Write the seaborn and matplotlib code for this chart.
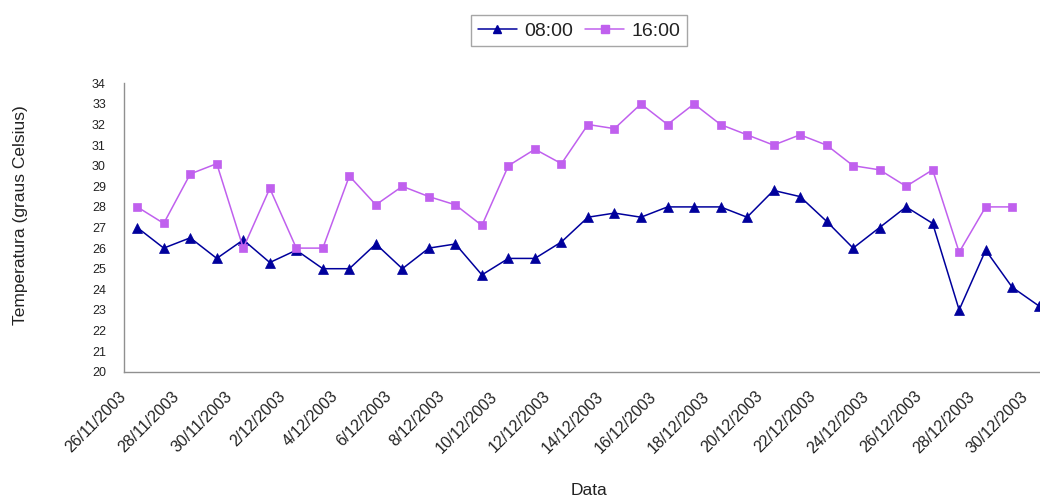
import numpy as np
import pandas as pd
import matplotlib
matplotlib.use("Agg")
import matplotlib.pyplot as plt
import seaborn as sns

# Daily readings, 26/11/2003 - 30/12/2003
datas = [f"{d.day}/{d.month}/{d.year}" for d in pd.date_range("2003-11-26", "2003-12-30", freq="D")]

temp_0800 = [27.0, 26.0, 26.5, 25.5, 26.4, 25.3, 25.9, 25.0, 25.0, 26.2,
             25.0, 26.0, 26.2, 24.7, 25.5, 25.5, 26.3, 27.5, 27.7, 27.5,
             28.0, 28.0, 28.0, 27.5, 28.8, 28.5, 27.3, 26.0, 27.0, 28.0,
             27.2, 23.0, 25.9, 24.1, 23.2]
temp_1600 = [28.0, 27.2, 29.6, 30.1, 26.0, 28.9, 26.0, 26.0, 29.5, 28.1,
             29.0, 28.5, 28.1, 27.1, 30.0, 30.8, 30.1, 32.0, 31.8, 33.0,
             32.0, 33.0, 32.0, 31.5, 31.0, 31.5, 31.0, 30.0, 29.8, 29.0,
             29.8, 25.8, 28.0, 28.0, np.nan]

series_names = ["08:00", "16:00"]
series_colors = {"08:00": "#00009C", "16:00": "#C060EE"}
series_markers = {"08:00": "^", "16:00": "s"}

idx = np.arange(len(datas))
df = pd.concat([
    pd.DataFrame({"pos": idx, "Data": datas, "temp": temp_0800, "Hora": "08:00"}),
    pd.DataFrame({"pos": idx, "Data": datas, "temp": temp_1600, "Hora": "16:00"}),
], ignore_index=True)

sns.set_theme(style="white")
plt.rcParams["font.family"] = ["Liberation Sans", "DejaVu Sans"]

fig = plt.figure(figsize=(10.4, 4.98), dpi=100)
ax = fig.add_axes([0.1192, 0.2536, 0.8923, 0.5791])

sns.lineplot(data=df, x="pos", y="temp", hue="Hora", style="Hora",
             hue_order=series_names, style_order=series_names,
             palette=series_colors, markers=series_markers, dashes=False,
             linewidth=1.1, markersize=6.5, ax=ax, legend=False)

for line, name in zip(ax.lines, series_names):
    line.set_markeredgecolor(series_colors[name])
    line.set_markerfacecolor(series_colors[name])
    line.set_markeredgewidth(0.5)
    if name == "16:00":
        line.set_markersize(5.6)

ax.set_xlim(-0.5, len(datas) - 0.5)
ax.set_ylim(20, 34)
ax.set_yticks(range(20, 35))

tick_pos = idx[::2] - 0.5
ax.set_xticks(tick_pos)
ax.set_xticklabels(datas[::2], rotation=45, ha="right", va="center",
                   rotation_mode="anchor", fontsize=11.5, color="#222222")
ax.tick_params(axis="x", direction="out", length=5, width=0.8, color="#808080", pad=11)
ax.tick_params(axis="y", direction="out", length=4, width=0.8, color="#808080",
               pad=9, labelsize=9, labelcolor="#222222")

for side in ["top", "right"]:
    ax.spines[side].set_visible(False)
for side in ["left", "bottom"]:
    ax.spines[side].set_color("#909090")
    ax.spines[side].set_linewidth(1.0)

ax.set_xlabel("Data", fontsize=12.5, color="#222222")
ax.set_ylabel("Temperatura (graus Celsius)", fontsize=12.5, color="#222222")
ax.xaxis.set_label_coords(0.501, -0.386)
ax.yaxis.set_label_coords(-0.1034, 0.543)

handles = [plt.Line2D([], [], color=series_colors[n], marker=series_markers[n],
                      markersize=6 if n == "08:00" else 5.5, linewidth=1.1,
                      markeredgecolor=series_colors[n]) for n in series_names]
leg = fig.legend(handles, series_names, loc="center", bbox_to_anchor=(0.557, 0.938),
                 ncol=2, fontsize=14, frameon=True, fancybox=False,
                 handlelength=2.0, handletextpad=0.4, columnspacing=0.6,
                 borderpad=0.35)
leg.get_frame().set_edgecolor("#909090")
leg.get_frame().set_linewidth(1.0)
for t in leg.get_texts():
    t.set_color("#222222")

fig.savefig("out.png", dpi=100)
